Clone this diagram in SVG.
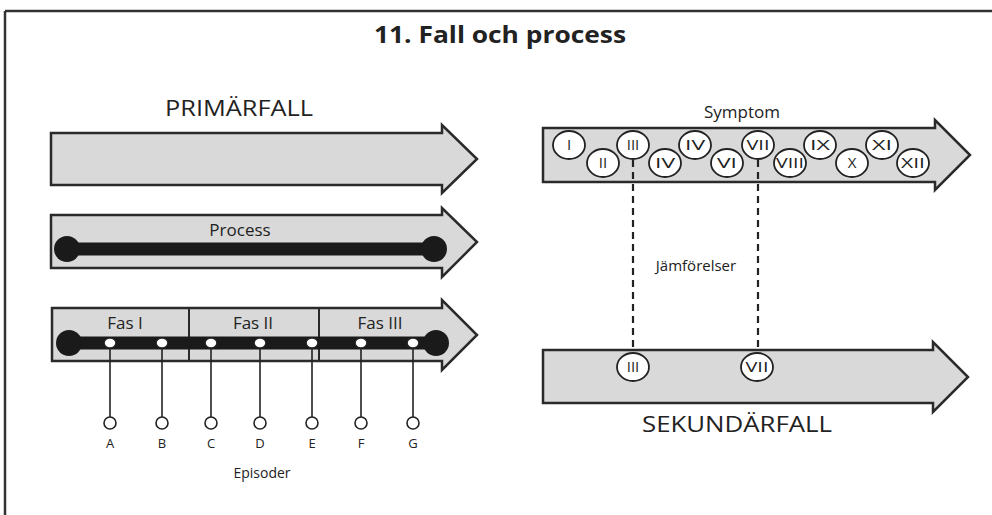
<svg xmlns="http://www.w3.org/2000/svg" width="992" height="515" viewBox="0 0 992 515">
<style>
.arrow{fill:#d9d9d9;stroke:#2a2a2a;stroke-width:2.5;stroke-linejoin:miter}
.t{font-family:"Open Sans","Liberation Sans",sans-serif;fill:#222}
.big{font-size:22px}
.mid{font-size:17px}
.sym{font-size:15px;text-anchor:middle;fill:#222}
.ell{fill:#fff;stroke:#222;stroke-width:1.8}
.bar{stroke:#1a1a1a;stroke-width:13;stroke-linecap:butt}
.dot{fill:#1a1a1a}
.ep{fill:#fff;stroke:#222;stroke-width:1.6}
.stem{stroke:#222;stroke-width:1.6}
.dash{stroke:#222;stroke-width:2.2;stroke-dasharray:7 5;fill:none}
.div{stroke:#2a2a2a;stroke-width:2}
.lt{font-size:13px;text-anchor:middle}
</style>
<rect x="0" y="0" width="992" height="515" fill="#fff"/>
<g id="frame">
<line x1="5" y1="11" x2="992" y2="11" stroke="#333" stroke-width="2.5"/>
<line x1="5" y1="11" x2="5" y2="515" stroke="#333" stroke-width="2.5"/>
</g>
<text id="title" x="500" y="43" text-anchor="middle" style="font-family:'Open Sans','Liberation Sans',sans-serif;font-weight:bold;font-size:23px;fill:#222" textLength="252" lengthAdjust="spacingAndGlyphs">11. Fall och process</text>

<g id="primarfall">
<text class="t big" x="239" y="116" text-anchor="middle" textLength="148" lengthAdjust="spacingAndGlyphs">PRIMÄRFALL</text>
<polygon class="arrow" points="51,133 442,133 442,125 477,159 442,193 442,185 51,185"/>
</g>

<g id="process">
<polygon class="arrow" points="51,215 442,215 442,208 477,242 442,277 442,268 51,268"/>
<text class="t mid" x="240" y="236" text-anchor="middle">Process</text>
<line class="bar" x1="67" y1="249" x2="434" y2="249"/>
<circle class="dot" cx="67" cy="249" r="13"/>
<circle class="dot" cx="434" cy="249" r="13"/>
</g>

<g id="faser">
<polygon class="arrow" points="52,308 442,308 442,300 477,335 442,370 442,361 52,361"/>
<line class="div" x1="189" y1="308" x2="189" y2="361"/>
<line class="div" x1="319" y1="308" x2="319" y2="361"/>
<text class="t mid" x="125" y="329" text-anchor="middle">Fas I</text>
<text class="t mid" x="253" y="329" text-anchor="middle">Fas II</text>
<text class="t mid" x="380" y="329" text-anchor="middle">Fas III</text>
<line class="bar" x1="69" y1="343" x2="436" y2="343"/>
<circle class="dot" cx="69" cy="343" r="13"/>
<circle class="dot" cx="436" cy="343" r="13"/>
</g>

<g id="episoder">
<g id="ep-A"><line class="stem" x1="110" y1="343" x2="110" y2="417"/><ellipse class="ep" cx="110" cy="343" rx="6" ry="5"/><circle class="ep" cx="110" cy="423" r="6"/><text class="t lt" x="110" y="448">A</text></g>
<g id="ep-B"><line class="stem" x1="162" y1="343" x2="162" y2="417"/><ellipse class="ep" cx="162" cy="343" rx="6" ry="5"/><circle class="ep" cx="162" cy="423" r="6"/><text class="t lt" x="162" y="448">B</text></g>
<g id="ep-C"><line class="stem" x1="211" y1="343" x2="211" y2="417"/><ellipse class="ep" cx="211" cy="343" rx="6" ry="5"/><circle class="ep" cx="211" cy="423" r="6"/><text class="t lt" x="211" y="448">C</text></g>
<g id="ep-D"><line class="stem" x1="260" y1="343" x2="260" y2="417"/><ellipse class="ep" cx="260" cy="343" rx="6" ry="5"/><circle class="ep" cx="260" cy="423" r="6"/><text class="t lt" x="260" y="448">D</text></g>
<g id="ep-E"><line class="stem" x1="312" y1="343" x2="312" y2="417"/><ellipse class="ep" cx="312" cy="343" rx="6" ry="5"/><circle class="ep" cx="312" cy="423" r="6"/><text class="t lt" x="312" y="448">E</text></g>
<g id="ep-F"><line class="stem" x1="361" y1="343" x2="361" y2="417"/><ellipse class="ep" cx="361" cy="343" rx="6" ry="5"/><circle class="ep" cx="361" cy="423" r="6"/><text class="t lt" x="361" y="448">F</text></g>
<g id="ep-G"><line class="stem" x1="413" y1="343" x2="413" y2="417"/><ellipse class="ep" cx="413" cy="343" rx="6" ry="5"/><circle class="ep" cx="413" cy="423" r="6"/><text class="t lt" x="413" y="448">G</text></g>
<text class="t" x="262" y="478" font-size="14" text-anchor="middle">Episoder</text>
</g>

<g id="symptom">
<text class="t mid" x="742" y="118" text-anchor="middle">Symptom</text>
<polygon class="arrow" points="543,128 935,128 935,120 970,155 935,190 935,182 543,182"/>
</g>

<g id="connectors">
<line class="dash" x1="633" y1="160" x2="633" y2="352"/>
<line class="dash" x1="758" y1="160" x2="758" y2="352"/>
</g>
<text id="jamforelser" class="t" x="696" y="271" font-size="15" text-anchor="middle">Jämförelser</text>

<g id="symptoms">
<g><ellipse class="ell" cx="569" cy="145" rx="16" ry="14"/><text class="t sym" x="569" y="150">I</text></g>
<g><ellipse class="ell" cx="603" cy="163" rx="16" ry="14"/><text class="t sym" x="603" y="168">II</text></g>
<g><ellipse class="ell" cx="633" cy="145" rx="16" ry="14"/><text class="t sym" x="633" y="150">III</text></g>
<g><ellipse class="ell" cx="665" cy="163" rx="16" ry="14"/><text class="t sym" x="665" y="168" textLength="20" lengthAdjust="spacingAndGlyphs">IV</text></g>
<g><ellipse class="ell" cx="695" cy="145" rx="16" ry="14"/><text class="t sym" x="695" y="150" textLength="20" lengthAdjust="spacingAndGlyphs">IV</text></g>
<g><ellipse class="ell" cx="727" cy="163" rx="16" ry="14"/><text class="t sym" x="727" y="168" textLength="20" lengthAdjust="spacingAndGlyphs">VI</text></g>
<g><ellipse class="ell" cx="758" cy="145" rx="16" ry="14"/><text class="t sym" x="758" y="150" textLength="23" lengthAdjust="spacingAndGlyphs">VII</text></g>
<g><ellipse class="ell" cx="790" cy="163" rx="16" ry="14"/><text class="t sym" x="790" y="168" textLength="28" lengthAdjust="spacingAndGlyphs">VIII</text></g>
<g><ellipse class="ell" cx="820" cy="145" rx="16" ry="14"/><text class="t sym" x="820" y="150" textLength="20" lengthAdjust="spacingAndGlyphs">IX</text></g>
<g><ellipse class="ell" cx="852" cy="163" rx="16" ry="14"/><text class="t sym" x="852" y="168">X</text></g>
<g><ellipse class="ell" cx="882" cy="145" rx="16" ry="14"/><text class="t sym" x="882" y="150" textLength="20" lengthAdjust="spacingAndGlyphs">XI</text></g>
<g><ellipse class="ell" cx="913" cy="163" rx="16" ry="14"/><text class="t sym" x="913" y="168" textLength="24" lengthAdjust="spacingAndGlyphs">XII</text></g>
</g>

<g id="sekundarfall">
<polygon class="arrow" points="543,350 933,350 933,342 968,377 933,412 933,403 543,403"/>
<g><ellipse class="ell" cx="633" cy="367" rx="16" ry="14"/><text class="t sym" x="633" y="372">III</text></g>
<g><ellipse class="ell" cx="757" cy="367" rx="16" ry="14"/><text class="t sym" x="757" y="372" textLength="23" lengthAdjust="spacingAndGlyphs">VII</text></g>
<text class="t big" x="737" y="432" text-anchor="middle" textLength="190" lengthAdjust="spacingAndGlyphs">SEKUNDÄRFALL</text>
</g>
</svg>
